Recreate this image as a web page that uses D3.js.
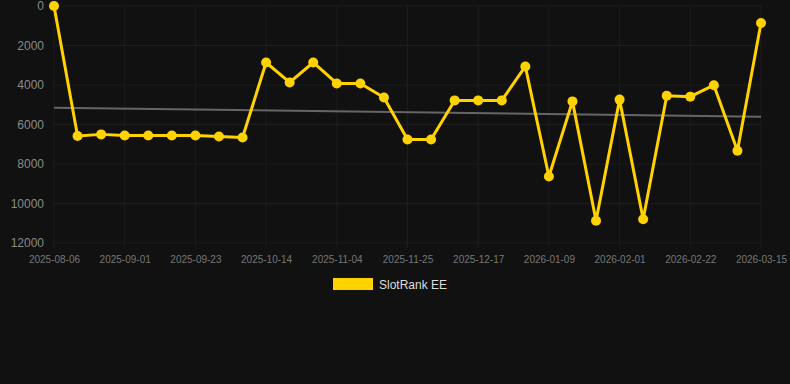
<!DOCTYPE html>
<html>
<head>
<meta charset="UTF-8">
<script src="https://d3js.org/d3.v7.min.js"></script>
<style>
  body { margin: 0; background: #111111; }
  text { font-family: "Liberation Sans", Arial, sans-serif; }
</style>
</head>
<body>
<div id="chart"></div>
<script>
// categories (dates between labelled ticks are estimated)
const dates = [
  "2025-08-06", "2025-08-15", "2025-08-23", "2025-09-01", "2025-09-08", "2025-09-16",
  "2025-09-23", "2025-09-30", "2025-10-07", "2025-10-14", "2025-10-21", "2025-10-28",
  "2025-11-04", "2025-11-11", "2025-11-18", "2025-11-25", "2025-12-02", "2025-12-10",
  "2025-12-17", "2025-12-24", "2025-12-31", "2026-01-09", "2026-01-16", "2026-01-24",
  "2026-02-01", "2026-02-08", "2026-02-15", "2026-02-22", "2026-03-01", "2026-03-08",
  "2026-03-15"
];
const rank = [
  1, 6580, 6500, 6560, 6560, 6560, 6560, 6610, 6660, 2860, 3870, 2860,
  3920, 3920, 4630, 6760, 6760, 4780, 4780, 4780, 3060, 8630, 4830, 10870,
  4740, 10800, 4540, 4590, 4010, 7330, 860
];
const yTicks = [0, 2000, 4000, 6000, 8000, 10000, 12000];
const seriesName = "SlotRank EE";

const width = 790, height = 384;
const padL = 54, padR = 761, padT = 6, padB = 243;

const svg = d3.select("#chart").append("svg")
  .attr("width", width).attr("height", height);

svg.append("rect").attr("width", width).attr("height", height).attr("fill", "#111111");

const x = d3.scalePoint().domain(dates).range([padL, padR]);
const y = d3.scaleLinear().domain([0, 12000]).range([padT, padB]);

const xTickVals = dates.filter((d, i) => i % 3 === 0);

// grid
svg.append("g").selectAll("line").data(yTicks).enter().append("line")
  .attr("x1", padL).attr("x2", padR).attr("y1", d => y(d)).attr("y2", d => y(d))
  .attr("stroke", "#1d1d1d").attr("stroke-width", 1);
svg.append("g").selectAll("line").data(xTickVals).enter().append("line")
  .attr("x1", d => x(d)).attr("x2", d => x(d)).attr("y1", padT).attr("y2", padB + 5)
  .attr("stroke", "#1d1d1d").attr("stroke-width", 1);

// axes
const yAxis = svg.append("g")
  .attr("transform", `translate(${padL - 10},0)`)
  .call(d3.axisLeft(y).tickValues(yTicks).tickSize(0).tickPadding(0).tickFormat(d3.format("d")));
yAxis.select(".domain").remove();
yAxis.selectAll("text").attr("fill", "#8a8a8a").style("font-size", "12px");

const xAxis = svg.append("g")
  .attr("transform", `translate(0,${padB})`)
  .call(d3.axisBottom(x).tickValues(xTickVals).tickSize(0).tickPadding(13));
xAxis.select(".domain").remove();
xAxis.selectAll("text").attr("fill", "#777").style("font-size", "10px");

// trend line (least squares over the series)
const n = rank.length;
const mx = d3.mean(rank, (d, i) => i), my = d3.mean(rank);
const slope = d3.sum(rank, (d, i) => (i - mx) * (d - my)) / d3.sum(rank, (d, i) => (i - mx) * (i - mx));
const icpt = my - slope * mx;
svg.append("line")
  .attr("x1", x(dates[0])).attr("y1", y(icpt))
  .attr("x2", x(dates[n - 1])).attr("y2", y(icpt + slope * (n - 1)))
  .attr("stroke", "#666").attr("stroke-width", 2);

// series
const line = d3.line().x((d, i) => x(dates[i])).y(d => y(d));
svg.append("path").datum(rank)
  .attr("d", line).attr("fill", "none")
  .attr("stroke", "#FFD200").attr("stroke-width", 3).attr("stroke-linejoin", "round");
svg.append("g").selectAll("circle").data(rank).enter().append("circle")
  .attr("cx", (d, i) => x(dates[i])).attr("cy", d => y(d)).attr("r", 5)
  .attr("fill", "#FFD200");

// legend
const lg = svg.append("g").attr("transform", "translate(333,278)");
lg.append("rect").attr("width", 40).attr("height", 12).attr("fill", "#FFD200");
lg.append("text").attr("x", 46).attr("y", 10.5).attr("fill", "#dddddd")
  .style("font-size", "12px").text(seriesName);
</script>
</body>
</html>
